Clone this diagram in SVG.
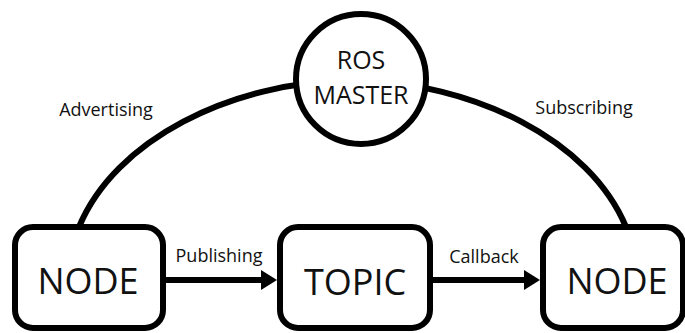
<svg xmlns="http://www.w3.org/2000/svg" width="685" height="333" viewBox="0 0 685 333">
<style>
.shape{fill:#fff;stroke:#000;stroke-width:6}
.conn{fill:none;stroke:#000;stroke-width:6}
.big{font-family:"Open Sans","Liberation Sans",sans-serif;font-size:36px;fill:#111;text-anchor:middle}
.mid{font-family:"Open Sans","Liberation Sans",sans-serif;font-size:25px;fill:#111;text-anchor:middle}
.lbl{font-family:"Open Sans","Liberation Sans",sans-serif;font-size:18px;fill:#111;text-anchor:middle}
</style>
<rect width="685" height="333" fill="#fff"/>
<g id="connectors">
<path class="conn" d="M79,227 C115,140 230,82 352,80 C474,82 590,140 626,227"/>
<line class="conn" x1="166" y1="280" x2="266" y2="280"/>
<polygon points="277,280 261,270 261,290" fill="#000"/>
<line class="conn" x1="433" y1="280" x2="528" y2="280"/>
<polygon points="540,280 524,270 524,290" fill="#000"/>
<text class="lbl" x="106" y="116">Advertising</text>
<text class="lbl" x="584" y="114">Subscribing</text>
<text class="lbl" x="219" y="262">Publishing</text>
<text class="lbl" x="484" y="263">Callback</text>
</g>
<g id="ros-master">
<circle class="shape" cx="361" cy="79" r="65"/>
<text class="mid" x="361" y="69">ROS</text>
<text class="mid" x="361" y="104">MASTER</text>
</g>
<g id="node-left">
<rect class="shape" x="15" y="227" width="148" height="101" rx="18"/>
<text class="big" x="88" y="294">NODE</text>
</g>
<g id="topic">
<rect class="shape" x="280" y="227" width="150" height="101" rx="18"/>
<text class="big" x="355" y="295">TOPIC</text>
</g>
<g id="node-right">
<rect class="shape" x="543" y="227" width="140" height="101" rx="18"/>
<text class="big" x="617" y="294">NODE</text>
</g>
</svg>
